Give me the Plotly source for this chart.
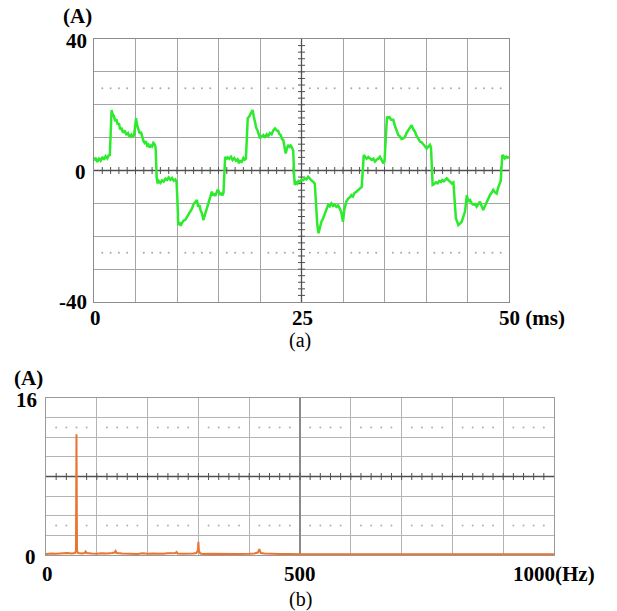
import plotly.graph_objects as go

# ---------------- (a) phase current waveform ----------------
time_ms = [
    0, 0.2, 0.4, 0.6, 0.8, 1.0, 1.2, 1.4, 1.6, 1.8,
    1.9, 2.0, 2.12, 2.25, 2.4, 2.55, 2.7, 2.85, 3.0, 3.15,
    3.3, 3.5, 3.7, 3.9, 4.1, 4.3, 4.5, 4.7, 4.85, 4.95,
    5.06, 5.2, 5.35, 5.5, 5.65, 5.8, 5.95, 6.1, 6.25, 6.4,
    6.55, 6.7, 6.85, 7.0, 7.15, 7.3, 7.42, 7.55, 7.65, 7.8,
    8.0, 8.2, 8.4, 8.6, 8.8, 9.0, 9.2, 9.4, 9.6, 9.8,
    9.95, 10.05, 10.15, 10.3, 10.45, 10.6, 10.8, 11.0, 11.2, 11.4,
    11.6, 11.8, 12.0, 12.2, 12.4, 12.55, 12.7, 12.85, 12.97, 13.1,
    13.17, 13.3, 13.45, 13.6, 13.75, 13.9, 14.0, 14.1, 14.2, 14.35,
    14.5, 14.6, 14.75, 14.9, 15.0, 15.15, 15.3, 15.45, 15.6, 15.72,
    15.8, 15.95, 16.1, 16.3, 16.5, 16.7, 16.9, 17.1, 17.3, 17.45,
    17.6, 17.8, 18.0, 18.15, 18.3, 18.42, 18.52, 18.7, 18.9, 19.1,
    19.25, 19.4, 19.55, 19.7, 19.85, 20.0, 20.2, 20.4, 20.6, 20.8,
    21.0, 21.2, 21.4, 21.6, 21.8, 22.0, 22.2, 22.35, 22.5, 22.65,
    22.8, 22.95, 23.1, 23.25, 23.4, 23.55, 23.7, 23.85, 24.0, 24.12,
    24.2, 24.35, 24.5, 24.65, 24.8, 25.0, 25.2, 25.4, 25.6, 25.8,
    26.0, 26.2, 26.4, 26.6, 26.75, 26.9, 27.05, 27.2, 27.4, 27.6,
    27.8, 28.0, 28.2, 28.4, 28.6, 28.8, 29.0, 29.2, 29.4, 29.6,
    29.8, 30.0, 30.15, 30.4, 30.6, 30.8, 31.0, 31.2, 31.4, 31.65,
    31.85, 32.05, 32.25, 32.4, 32.5, 32.65, 32.85, 33.05, 33.25, 33.45,
    33.65, 33.85, 34.05, 34.25, 34.45, 34.65, 34.85, 35.0, 35.15, 35.3,
    35.45, 35.6, 35.8, 36.06, 36.25, 36.45, 36.66, 36.85, 37.05, 37.27,
    37.47, 37.67, 37.87, 38.07, 38.27, 38.45, 38.67, 38.85, 39.05, 39.28,
    39.47, 39.67, 39.87, 40.08, 40.28, 40.48, 40.6, 40.7, 40.8, 41.0,
    41.2, 41.4, 41.6, 41.8, 41.95, 42.15, 42.35, 42.5, 42.7, 42.9,
    43.1, 43.3, 43.45, 43.6, 43.9, 44.1, 44.3, 44.5, 44.7, 44.85,
    44.92, 45.1, 45.3, 45.5, 45.7, 45.9, 46.1, 46.3, 46.5, 46.7,
    46.9, 47.1, 47.3, 47.5, 47.7, 47.9, 48.1, 48.3, 48.5, 48.7,
    48.9, 49.0, 49.1, 49.2, 49.35, 49.5, 49.7, 49.85, 50.0,
]
current_a = [
    3.0, 3.9, 2.6, 3.6, 3.0, 4.1, 3.3, 4.3, 3.7, 4.8,
    4.4, 14.0, 18.4, 17.0, 16.6, 15.0, 15.6, 14.0, 14.4, 12.5,
    13.0, 11.5, 12.2, 10.8, 11.4, 10.2, 10.9, 10.1, 11.2, 13.3,
    15.9, 13.8, 12.4, 11.3, 11.8, 10.0, 9.0, 8.4, 8.9, 7.6,
    7.9, 7.0, 7.6, 7.3, 8.4, 8.0, 7.0, -2.0, -3.9, -3.2,
    -3.8, -3.0, -3.4, -2.5, -2.9, -2.1, -2.8, -2.3, -3.1, -2.7,
    -3.6, -9.0, -16.6, -15.8, -16.8, -15.9, -15.2, -15.0, -14.2, -13.5,
    -12.5, -11.6, -10.2, -9.6, -9.0, -11.0, -10.5, -12.2, -12.8, -14.0,
    -15.1, -14.0, -12.6, -12.0, -10.2, -8.8, -8.0, -7.0, -6.4, -7.6,
    -7.0, -7.8, -6.6, -5.8, -6.2, -7.4, -6.8, -7.6, -6.8, 0.5,
    4.2, 3.4, 4.0, 3.6, 4.2, 3.2, 3.8, 3.0, 3.4, 2.2,
    2.9, 2.6, 3.8, 3.3, 3.6, 10.0, 15.9, 16.4, 17.2, 18.4,
    16.4, 14.3, 13.0, 12.2, 10.6, 9.8, 10.4, 10.8, 10.0, 11.0,
    10.5, 11.4, 11.0, 12.2, 12.8, 12.2, 12.0, 11.0, 10.8, 9.6,
    9.3, 7.2, 5.2, 6.8, 7.8, 7.2, 7.6, 7.0, 6.0, -2.0,
    -4.4, -3.6, -4.0, -3.2, -3.4, -2.8, -3.0, -2.4, -2.7, -1.9,
    -2.6, -3.0, -3.4, -4.0, -10.0, -16.5, -19.1, -17.5, -15.6, -14.6,
    -13.0, -12.0, -10.5, -10.9, -10.0, -10.8, -10.4, -11.0, -10.6, -11.5,
    -12.8, -15.6, -12.0, -9.5, -8.6, -8.2, -7.5, -7.9, -6.8, -6.4,
    -6.0, -5.4, -5.0, 0.5, 4.7, 4.2, 3.6, 4.1, 3.7, 3.2,
    3.6, 2.7, 3.3, 3.6, 4.2, 3.2, 2.2, 2.8, 10.0, 16.4,
    16.0, 16.2, 15.4, 15.4, 13.6, 12.2, 10.8, 10.4, 9.6, 9.8,
    10.2, 11.5, 12.3, 13.3, 13.8, 12.6, 11.8, 10.6, 9.6, 8.8,
    8.6, 7.8, 7.4, 6.7, 7.4, 7.8, 7.0, -1.5, -4.4, -4.1,
    -3.6, -3.9, -3.2, -3.5, -2.9, -3.3, -2.6, -2.4, -2.9, -3.4,
    -3.9, -3.6, -10.0, -14.5, -16.6, -16.0, -15.6, -14.0, -12.5, -9.0,
    -7.5, -9.5, -9.0, -10.0, -10.4, -10.2, -11.0, -10.2, -9.5, -10.8,
    -12.0, -10.8, -9.5, -8.6, -7.5, -6.8, -5.9, -6.6, -7.0, -5.2,
    -3.4, -3.2, 1.0, 4.7, 4.4, 3.7, 4.2, 3.9, 4.2,
]

# ---------------- (b) amplitude spectrum ----------------
freq_hz = [
    0, 10, 20, 30, 38, 42, 50, 57, 59, 60,
    61, 63, 70, 76, 78, 80, 90, 100, 110, 120,
    130, 135, 137, 139, 150, 160, 170, 180, 190, 200,
    210, 220, 230, 240, 250, 255, 257, 259, 270, 280,
    290, 296, 299, 300, 301, 304, 310, 320, 340, 360,
    380, 400, 410, 417, 419, 420, 421, 423, 430, 440,
    460, 480, 500, 600, 700, 800, 900, 1000,
]
amplitude_a = [
    0.10, 0.15, 0.12, 0.18, 0.25, 0.20, 0.15, 0.20, 0.40, 12.3,
    0.40, 0.20, 0.15, 0.20, 0.35, 0.20, 0.15, 0.12, 0.18, 0.15,
    0.20, 0.25, 0.40, 0.20, 0.15, 0.12, 0.15, 0.10, 0.18, 0.12,
    0.15, 0.10, 0.12, 0.18, 0.15, 0.20, 0.30, 0.15, 0.12, 0.10,
    0.15, 0.20, 0.45, 1.35, 0.40, 0.15, 0.10, 0.12, 0.10, 0.12,
    0.10, 0.12, 0.15, 0.25, 0.50, 0.60, 0.40, 0.20, 0.15, 0.12,
    0.10, 0.10, 0.08, 0.08, 0.08, 0.08, 0.08, 0.08,
]

# scope-style axis ranges and grid steps
T_RANGE, T_STEP = (0, 50), 5
I_RANGE, I_STEP = (-40, 40), 10
F_RANGE, F_STEP = (0, 1000), 100
A_RANGE, A_STEP = (0, 16), 2

W, H = 617, 611
SERIF = "Liberation Serif, Times New Roman, serif"


def px(x, y):
    """pixel position -> paper coordinates"""
    return x / W, 1 - y / H


fig = go.Figure()

# --- oscilloscope decorations for (a) ---
dot_t = [t for t in range(1, 50) if t % 5]
for lvl in (25, -25):
    fig.add_trace(go.Scatter(x=dot_t, y=[lvl] * len(dot_t), mode="markers",
                             marker=dict(size=2, color="#a8a8a8"),
                             xaxis="x", yaxis="y", hoverinfo="skip"))
fig.add_trace(go.Scatter(x=[0, 50], y=[0, 0], mode="lines",
                         line=dict(color="#505050", width=1.3),
                         xaxis="x", yaxis="y", hoverinfo="skip"))
fig.add_trace(go.Scatter(x=[25, 25], y=[-40, 40], mode="lines",
                         line=dict(color="#505050", width=1.3),
                         xaxis="x", yaxis="y", hoverinfo="skip"))
tick_t = list(range(1, 50))
fig.add_trace(go.Scatter(x=tick_t, y=[0] * len(tick_t), mode="markers",
                         marker=dict(symbol="line-ns", size=5,
                                     line=dict(color="#505050", width=1)),
                         xaxis="x", yaxis="y", hoverinfo="skip"))
tick_i = list(range(-38, 40, 2))
fig.add_trace(go.Scatter(x=[25] * len(tick_i), y=tick_i, mode="markers",
                         marker=dict(symbol="line-ew", size=5,
                                     line=dict(color="#505050", width=1)),
                         xaxis="x", yaxis="y", hoverinfo="skip"))

# waveform
fig.add_trace(go.Scatter(x=time_ms, y=current_a, mode="lines",
                         line=dict(color="#2CEA2C", width=2.5),
                         xaxis="x", yaxis="y"))

# --- decorations for (b) ---
dot_f = [f for f in range(20, 1000, 20) if f % 100]
for lvl in (13, 3):
    fig.add_trace(go.Scatter(x=dot_f, y=[lvl] * len(dot_f), mode="markers",
                             marker=dict(size=2, color="#b0b0b0"),
                             xaxis="x2", yaxis="y2", hoverinfo="skip"))
fig.add_trace(go.Scatter(x=[0, 1000], y=[8, 8], mode="lines",
                         line=dict(color="#505050", width=1.3),
                         xaxis="x2", yaxis="y2", hoverinfo="skip"))
fig.add_trace(go.Scatter(x=[500, 500], y=[0, 16], mode="lines",
                         line=dict(color="#8a8a8a", width=2),
                         xaxis="x2", yaxis="y2", hoverinfo="skip"))
tick_f = list(range(20, 1000, 20))
fig.add_trace(go.Scatter(x=tick_f, y=[8] * len(tick_f), mode="markers",
                         marker=dict(symbol="line-ns", size=5,
                                     line=dict(color="#505050", width=1)),
                         xaxis="x2", yaxis="y2", hoverinfo="skip"))

# spectrum
fig.add_trace(go.Scatter(x=freq_hz, y=amplitude_a, mode="lines",
                         line=dict(color="#EA7430", width=2),
                         xaxis="x2", yaxis="y2"))

grid_a = dict(showgrid=True, gridcolor="#a4a4a4", gridwidth=1, zeroline=False,
              showline=True, mirror=True, linecolor="#8c8c8c", linewidth=1,
              showticklabels=False, ticks="", fixedrange=True)
grid_b = dict(grid_a, gridcolor="#b4b4b4", linecolor="#9a9a9a")

fig.update_layout(
    width=W, height=H,
    margin=dict(l=0, r=0, t=0, b=0),
    paper_bgcolor="white", plot_bgcolor="white",
    showlegend=False,
    xaxis=dict(grid_a, domain=[94 / W, 509 / W], range=T_RANGE,
               tick0=0, dtick=T_STEP, anchor="y"),
    yaxis=dict(grid_a, domain=[1 - 302 / H, 1 - 39 / H], range=I_RANGE,
               tick0=0, dtick=I_STEP, anchor="x"),
    xaxis2=dict(grid_b, domain=[46 / W, 554 / W], range=F_RANGE,
                tick0=0, dtick=F_STEP, anchor="y2"),
    yaxis2=dict(grid_b, domain=[1 - 555 / H, 1 - 398 / H], range=A_RANGE,
                tick0=0, dtick=A_STEP, anchor="x2"),
)

bold = dict(family=SERIF, size=21, color="black")
plain = dict(family=SERIF, size=20, color="black")
labels = [
    # (text, x_px, y_px, xanchor, font)
    ("<b>(A)</b>", 77, 16, "center", bold),
    ("<b>40</b>", 89, 41, "right", bold),
    ("<b>0</b>", 88, 172, "right", bold),
    ("<b>-40</b>", 89, 302, "right", bold),
    ("<b>0</b>", 95, 318, "center", bold),
    ("<b>25</b>", 302, 318, "center", bold),
    ("<b>50 (ms)</b>", 497, 318, "left", bold),
    ("(a)", 300, 340, "center", plain),
    ("<b>(A)</b>", 28, 378, "center", bold),
    ("<b>16</b>", 39, 400, "right", bold),
    ("<b>0</b>", 38, 557, "right", bold),
    ("<b>0</b>", 47, 574, "center", bold),
    ("<b>500</b>", 300, 574, "center", bold),
    ("<b>1000(Hz)</b>", 511, 574, "left", bold),
    ("(b)", 300, 599, "center", plain),
]
for text, x, y, xa, font in labels:
    ax, ay = px(x, y)
    fig.add_annotation(text=text, x=ax, y=ay, xref="paper", yref="paper",
                       xanchor=xa, yanchor="middle", showarrow=False, font=font)

fig.write_html("out.html")
